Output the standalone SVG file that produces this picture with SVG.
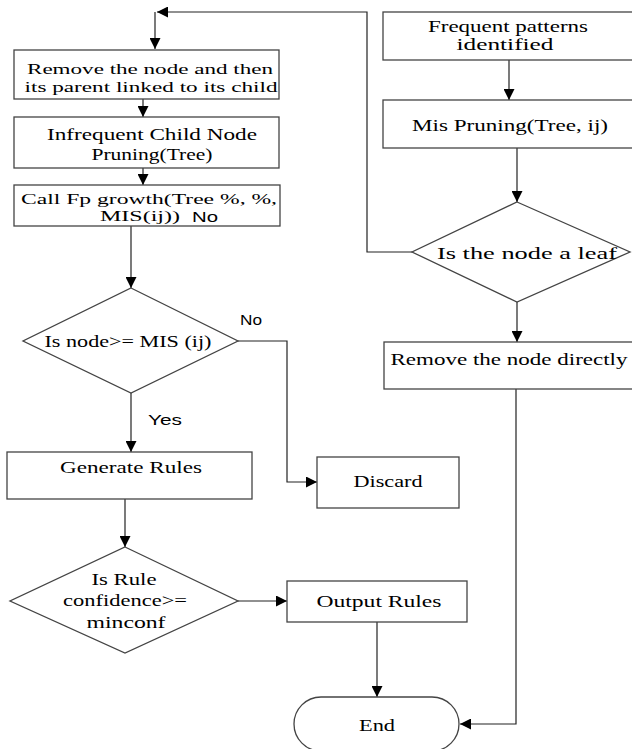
<svg xmlns="http://www.w3.org/2000/svg" width="632" height="749" viewBox="0 0 632 749">
<defs>
<marker id="ah" viewBox="0 0 10 10" refX="10" refY="5" markerWidth="11" markerHeight="11" markerUnits="userSpaceOnUse" orient="auto">
<path d="M0,0 L10,5 L0,10 Z" fill="#000"/>
</marker>
<style>
.box{fill:#fff;stroke:#444;stroke-width:1.3}
.t{font-family:"Liberation Serif","Times New Roman",serif;font-size:17px;fill:#000;text-anchor:middle}
.tt{font-size:15px}
.s{font-family:"Liberation Sans",Arial,sans-serif;font-size:14px;fill:#000;text-anchor:middle}
.c{fill:none;stroke:#222;stroke-width:1.2}
</style>
</defs>
<rect width="632" height="749" fill="#fff"/>
<g id="connectors">
<path class="c" d="M412,252 H367 V12 H157" marker-end="url(#ah)"/>
<path class="c" d="M155,12 V49" marker-end="url(#ah)"/>
<path class="c" d="M509,60 V100" marker-end="url(#ah)"/>
<path class="c" d="M517,148 V202" marker-end="url(#ah)"/>
<path class="c" d="M517,302 V342" marker-end="url(#ah)"/>
<path class="c" d="M516,389 V724 H460" marker-end="url(#ah)"/>
<path class="c" d="M143,99 V117" marker-end="url(#ah)"/>
<path class="c" d="M143,168 V185" marker-end="url(#ah)"/>
<path class="c" d="M131,226 V288" marker-end="url(#ah)"/>
<path class="c" d="M238,341 H287 V482 H317" marker-end="url(#ah)"/>
<path class="c" d="M131,393 V452" marker-end="url(#ah)"/>
<path class="c" d="M125,499 V547" marker-end="url(#ah)"/>
<path class="c" d="M238,601 H287" marker-end="url(#ah)"/>
<path class="c" d="M377,622 V697" marker-end="url(#ah)"/>
</g>
<g id="remove-node-link">
<rect class="box" x="14" y="50" width="265" height="49"/>
<text class="t tt" x="150" y="74" textLength="246" lengthAdjust="spacingAndGlyphs">Remove the node and then</text>
<text class="t tt" x="151" y="92" textLength="253" lengthAdjust="spacingAndGlyphs">its parent linked to its child</text>
</g>
<g id="infrequent-pruning">
<rect class="box" x="14" y="117" width="265" height="51"/>
<text class="t" x="152" y="140" textLength="210" lengthAdjust="spacingAndGlyphs">Infrequent Child Node</text>
<text class="t" x="152" y="160" textLength="121" lengthAdjust="spacingAndGlyphs">Pruning(Tree)</text>
</g>
<g id="call-fp-growth">
<rect class="box" x="14" y="185" width="266" height="41"/>
<text class="t tt" x="149" y="204" textLength="256" lengthAdjust="spacingAndGlyphs">Call Fp growth(Tree %, %,</text>
<text class="t tt" x="140" y="221" textLength="80" lengthAdjust="spacingAndGlyphs">MIS(ij))</text>
<text class="s" x="205" y="222" textLength="26" lengthAdjust="spacingAndGlyphs">No</text>
</g>
<g id="is-node-mis">
<polygon class="box" points="131,288 238,341 131,393 23,341"/>
<text class="t" x="128" y="347" textLength="167" lengthAdjust="spacingAndGlyphs">Is node&gt;= MIS (ij)</text>
<text class="s" x="251" y="325" textLength="22" lengthAdjust="spacingAndGlyphs">No</text>
<text class="s" x="165" y="425" textLength="34" lengthAdjust="spacingAndGlyphs">Yes</text>
</g>
<g id="generate-rules">
<rect class="box" x="7" y="452" width="245" height="47"/>
<text class="t" x="131" y="473" textLength="142" lengthAdjust="spacingAndGlyphs">Generate Rules</text>
</g>
<g id="rule-confidence">
<polygon class="box" points="125,547 238,601 125,653 10,601"/>
<text class="t" x="124" y="585" textLength="65" lengthAdjust="spacingAndGlyphs">Is Rule</text>
<text class="t" x="125" y="606" textLength="124" lengthAdjust="spacingAndGlyphs">confidence&gt;=</text>
<text class="t" x="126" y="628" textLength="79" lengthAdjust="spacingAndGlyphs">minconf</text>
</g>
<g id="discard">
<rect class="box" x="317" y="457" width="142" height="51"/>
<text class="t" x="388" y="487" textLength="69" lengthAdjust="spacingAndGlyphs">Discard</text>
</g>
<g id="output-rules">
<rect class="box" x="287" y="581" width="180" height="41"/>
<text class="t" x="379" y="607" textLength="125" lengthAdjust="spacingAndGlyphs">Output Rules</text>
</g>
<g id="end">
<rect class="box" x="294" y="697" width="165" height="54" rx="27"/>
<text class="t" x="377" y="731" textLength="36" lengthAdjust="spacingAndGlyphs">End</text>
</g>
<g id="frequent-patterns">
<rect class="box" x="383" y="12" width="260" height="48"/>
<text class="t" x="508" y="32" textLength="160" lengthAdjust="spacingAndGlyphs">Frequent patterns</text>
<text class="t" x="505" y="50" textLength="97" lengthAdjust="spacingAndGlyphs">identified</text>
</g>
<g id="mis-pruning">
<rect class="box" x="383" y="100" width="260" height="48"/>
<text class="t" x="510" y="131" textLength="196" lengthAdjust="spacingAndGlyphs">Mis Pruning(Tree, ij)</text>
</g>
<g id="is-leaf">
<polygon class="box" points="517,202 630,252 517,302 412,252"/>
<text class="t" x="527" y="259" textLength="180" lengthAdjust="spacingAndGlyphs">Is the node a leaf</text>
</g>
<g id="remove-directly">
<rect class="box" x="384" y="342" width="260" height="47"/>
<text class="t" x="509" y="365" textLength="237" lengthAdjust="spacingAndGlyphs">Remove the node directly</text>
</g>
</svg>
